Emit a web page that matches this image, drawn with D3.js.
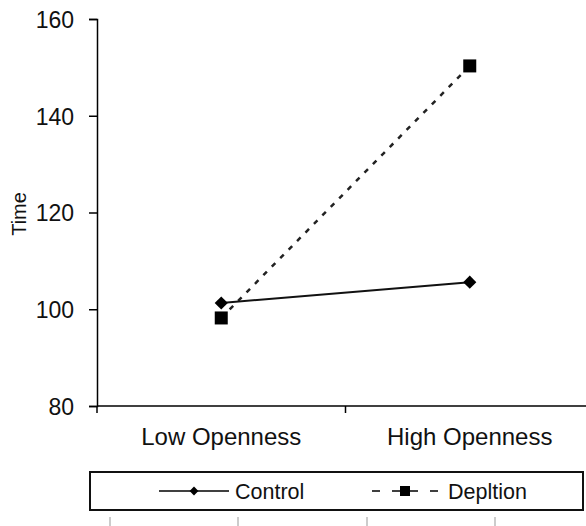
<!DOCTYPE html>
<html>
<head>
<meta charset="utf-8">
<script src="https://cdn.jsdelivr.net/npm/d3@7"></script>
<style>
  body { margin: 0; background: #fff; }
  svg text { font-family: "Liberation Sans", Arial, sans-serif; fill: #111; }
</style>
</head>
<body>
<svg id="chart" width="586" height="526"></svg>
<script>
var categories = ['Low Openness', 'High Openness'];
var controlValues = [101.3, 105.6];
var depletionValues = [98.2, 150.3];
var yTicks = [80, 100, 120, 140, 160];
var seriesNames = ['Control', 'Depltion'];

var svg = d3.select('#chart');

var x = d3.scaleBand().domain(categories).range([97, 594]);
var y = d3.scaleLinear().domain([80, 160]).range([406, 19]);

// y axis
var yAxis = d3.axisLeft(y).tickValues(yTicks).tickSize(8).tickPadding(15);
var gy = svg.append('g').attr('transform', 'translate(97,0)').call(yAxis);
gy.selectAll('text').style('font-size', '23px').attr('dy', '0.36em');
gy.select('.domain').attr('stroke-width', 1.5);
gy.selectAll('.tick line').attr('stroke-width', 1.5);

// x axis, ticks sit at band edges
var gx = svg.append('g').attr('transform', 'translate(0,406)');
gx.append('line').attr('x1', 97).attr('x2', 594).attr('y1', 0).attr('y2', 0)
    .attr('stroke', '#000').attr('stroke-width', 1.5);
var edges = categories.map(function(d) { return x(d); }).concat([x.range()[1]]);
gx.selectAll('.edge').data(edges).enter().append('line')
    .attr('x1', function(d) { return d; }).attr('x2', function(d) { return d; })
    .attr('y1', 0).attr('y2', 7).attr('stroke', '#000').attr('stroke-width', 1.5);
gx.selectAll('.cat').data(categories).enter().append('text')
    .attr('x', function(d) { return x(d) + x.bandwidth() / 2; })
    .attr('y', 39).attr('text-anchor', 'middle')
    .style('font-size', '24px').text(function(d) { return d; });

svg.append('text').attr('transform', 'translate(26,214) rotate(-90)')
    .attr('text-anchor', 'middle').style('font-size', '20px').text('Time');

var cx = function(d, i) { return x(categories[i]) + x.bandwidth() / 2; };
var line = d3.line().x(cx).y(function(d) { return y(d); });

svg.append('path').attr('d', line(depletionValues)).attr('fill', 'none')
    .attr('stroke', '#222').attr('stroke-width', 2.5).attr('stroke-dasharray', '5,7');
svg.append('path').attr('d', line(controlValues)).attr('fill', 'none')
    .attr('stroke', '#111').attr('stroke-width', 2);

svg.selectAll('.sq').data(depletionValues).enter().append('rect')
    .attr('x', function(d, i) { return cx(d, i) - 6.5; })
    .attr('y', function(d) { return y(d) - 6.5; })
    .attr('width', 13).attr('height', 13).attr('fill', '#000');
var diamond = d3.symbol().type(d3.symbolDiamond2).size(110);
svg.selectAll('.dm').data(controlValues).enter().append('path')
    .attr('d', diamond)
    .attr('transform', function(d, i) { return 'translate(' + cx(d, i) + ',' + y(d) + ')'; })
    .attr('fill', '#000');

// legend
var lg = svg.append('g');
lg.append('rect').attr('x', 90).attr('y', 472).attr('width', 493).attr('height', 38)
    .attr('fill', '#fff').attr('stroke', '#111').attr('stroke-width', 2);
lg.append('line').attr('x1', 159).attr('x2', 229).attr('y1', 491).attr('y2', 491)
    .attr('stroke', '#000').attr('stroke-width', 1.5);
lg.append('path').attr('d', d3.symbol().type(d3.symbolDiamond2).size(50))
    .attr('transform', 'translate(194,491)').attr('fill', '#000');
lg.append('text').attr('x', 235).attr('y', 498.5).style('font-size', '21.5px').text(seriesNames[0]);
lg.append('line').attr('x1', 372).attr('x2', 438).attr('y1', 491).attr('y2', 491)
    .attr('stroke', '#000').attr('stroke-width', 1.5).attr('stroke-dasharray', '8,12,26,12,8');
lg.append('rect').attr('x', 400).attr('y', 486).attr('width', 10).attr('height', 10).attr('fill', '#000');
lg.append('text').attr('x', 448).attr('y', 498.5).style('font-size', '21.5px').text(seriesNames[1]);

// faint table ticks under legend
svg.selectAll('.tt').data([110, 238, 367, 495]).enter().append('line')
    .attr('x1', function(d) { return d; }).attr('x2', function(d) { return d; })
    .attr('y1', 517).attr('y2', 526).attr('stroke', '#bbb').attr('stroke-width', 1.5);
</script>
</body>
</html>
